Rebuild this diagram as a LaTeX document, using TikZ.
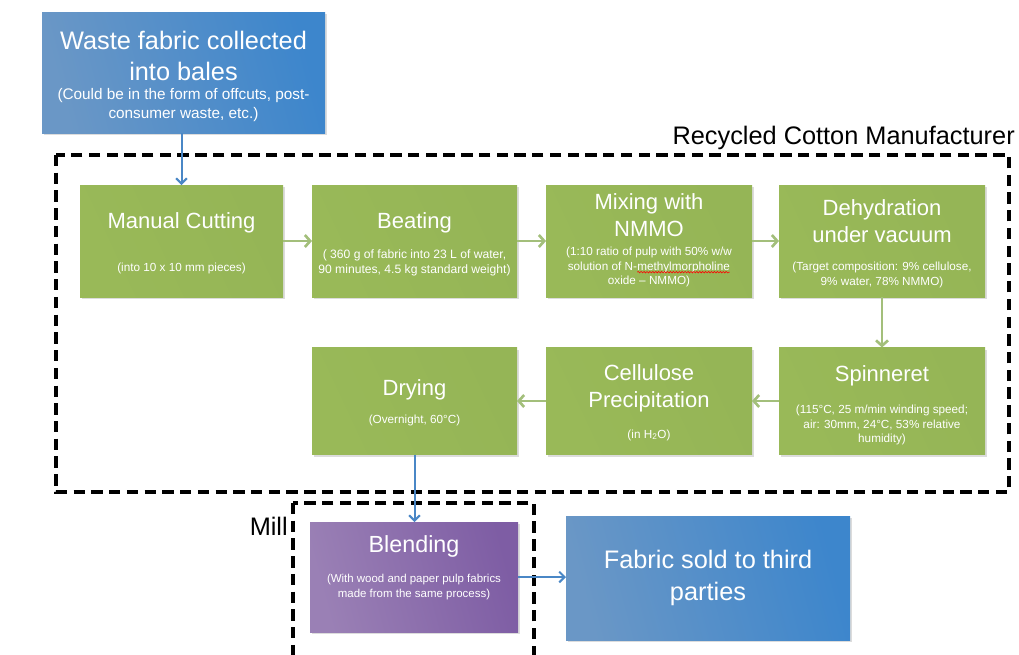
\documentclass[tikz,border=0pt]{standalone}
\usepackage{fontspec}
\setmainfont{Liberation Sans}
\usetikzlibrary{arrows.meta,shadows,decorations.pathmorphing}

\definecolor{gLo}{HTML}{99B958}
\definecolor{gHi}{HTML}{AACA5F}
\definecolor{gEnd}{HTML}{95B556}
\definecolor{bLo}{HTML}{6A97C6}
\definecolor{bHi}{HTML}{3D86CC}
\definecolor{pLo}{HTML}{9A80B5}
\definecolor{pHi}{HTML}{7E5DA4}
\definecolor{garrow}{HTML}{A3BF7B}
\definecolor{barrow}{HTML}{4A87C6}

% red wavy spell-check underline under a word
\newcommand\spellmark[1]{\tikz[baseline=(sw.base)]{%
  \node[inner sep=0pt,outer sep=0pt] (sw) {#1};
  \draw[red,line width=0.45pt,decorate,decoration={snake,amplitude=0.55pt,segment length=2.2pt}]
    ([yshift=-1.6pt]sw.base west) -- ([yshift=-1.6pt]sw.base east);}}

\begin{document}
\begin{tikzpicture}[x=0.75pt,y=-0.75pt,
  box/.style={rectangle,inner sep=0pt,outer sep=0pt,
    drop shadow={shadow xshift=1.3pt,shadow yshift=-1.5pt,opacity=0.28}},
  greenbox/.style={box,minimum height=#1,left color=gLo,middle color=gHi,right color=gEnd,shading angle=115},
  bluebox/.style={box,left color=bLo,right color=bHi,shading angle=105},
  purplebox/.style={box,left color=pLo,right color=pHi,shading angle=105},
  ttl/.style={text=white,align=center,inner sep=0pt,font=\fontsize{16.5}{20.5}\selectfont},
  bigttl/.style={text=white,align=center,inner sep=0pt,font=\fontsize{19}{23.5}\selectfont},
  sub/.style={text=white,align=center,inner sep=0pt,font=\fontsize{8.8}{10.8}\selectfont},
  lbl/.style={text=black,inner sep=0pt,font=\fontsize{19}{23}\selectfont},
  dashbox/.style={draw=black,line width=2.6pt,dash pattern=on 8.5pt off 4.8pt},
  garr/.style={draw=garrow,line width=2pt,-{Straight Barb[length=4pt,width=9pt,line width=2pt]}},
  barr/.style={draw=barrow,line width=1.5pt,-{Straight Barb[length=4pt,width=8pt,line width=1.5pt]}}]

\useasboundingbox (0,0) rectangle (1019,654);
\clip (0,0) rectangle (1019,654);

% process boxes
\node[bluebox,minimum width=212.25pt,minimum height=90.75pt] (waste) at (183.5,72.5) {};
\node[greenbox=84pt,minimum width=152.25pt] (cut)   at (181.5,241) {};
\node[greenbox=84pt,minimum width=153.75pt] (beat)  at (414.5,241) {};
\node[greenbox=84pt,minimum width=154.5pt]  (mix)   at (649,241) {};
\node[greenbox=84pt,minimum width=154.5pt]  (dehyd) at (882,241) {};
\node[greenbox=80.25pt,minimum width=153.75pt] (dry)  at (414.5,401) {};
\node[greenbox=80.25pt,minimum width=154.5pt]  (cell) at (649,401) {};
\node[greenbox=80.25pt,minimum width=154.5pt]  (spin) at (882,401) {};
\node[purplebox,minimum width=156pt,minimum height=82.5pt] (blend) at (414,577) {};
\node[bluebox,minimum width=213pt,minimum height=93pt] (fabric) at (708,578) {};

% box texts
\node[bigttl] (wasteT) at (183.5,56) {Waste fabric collected\\into bales};
\node[sub,font=\fontsize{11.5}{14}\selectfont] (wasteS) at (183.5,105)
  {(Could be in the form of offcuts, post-\\consumer waste, etc.)};

\node[ttl] (cutT) at (181.5,223) {Manual Cutting};
\node[sub] (cutS) at (181.5,268) {(into 10 x 10 mm pieces)};

\node[ttl] (beatT) at (414.5,223) {Beating};
\node[sub,font=\fontsize{9.1}{11.5}\selectfont] (beatS) at (414.5,263)
  {( 360 g of fabric into 23 L of water,\\90 minutes, 4.5 kg standard weight)};

\node[ttl] (mixT) at (649,215) {Mixing with\\NMMO};
\node[sub] (mixS) at (649,267)
  {(1:10 ratio of pulp with 50\% w/w\\solution of N-\spellmark{methylmorpholine}\\oxide – NMMO)};

\node[ttl] (dehydT) at (882,221) {Dehydration\\under vacuum};
\node[sub] (dehydS) at (882,275) {(Target composition: 9\% cellulose,\\9\% water, 78\% NMMO)};

\node[ttl] (dryT) at (414.5,390) {Drying};
\node[sub] (dryS) at (414.5,420) {(Overnight, 60°C)};

\node[ttl] (cellT) at (649,388) {Cellulose\\Precipitation};
\node[sub] (cellS) at (649,435) {(in H\textsubscript{2}O)};

\node[ttl] (spinT) at (882,376) {Spinneret};
\node[sub] (spinS) at (882,425)
  {(115°C, 25 m/min winding speed;\\air: 30mm, 24°C, 53\% relative\\humidity)};

\node[ttl,font=\fontsize{17.5}{21}\selectfont] (blendT) at (414,546) {Blending};
\node[sub,font=\fontsize{8.6}{11}\selectfont] (blendS) at (414,587)
  {(With wood and paper pulp fabrics\\made from the same process)};

\node[bigttl] (fabricT) at (708,578) {Fabric sold to third\\parties};

% organisation boundaries
\draw[dashbox] (56,155) rectangle (1009,492);
\draw[dashbox] (293,503) rectangle (534,690);
\node[lbl,anchor=east] (mfr) at (1015,138) {Recycled Cotton Manufacturer};
\node[lbl,anchor=east] (mill) at (288,526) {Mill};

% flow arrows
\draw[barr] (waste.south -| cut.north) -- (cut.north);
\draw[garr] (cut.east) -- (beat.west);
\draw[garr] (beat.east) -- (mix.west);
\draw[garr] (mix.east) -- (dehyd.west);
\draw[garr] (dehyd.south) -- (spin.north);
\draw[garr] (spin.west) -- (cell.east);
\draw[garr] (cell.west) -- (dry.east);
\draw[barr] (dry.south) -- (dry.south |- blend.north);
\draw[barr] (blend.east) -- (blend.east -| fabric.west);
\end{tikzpicture}
\end{document}
